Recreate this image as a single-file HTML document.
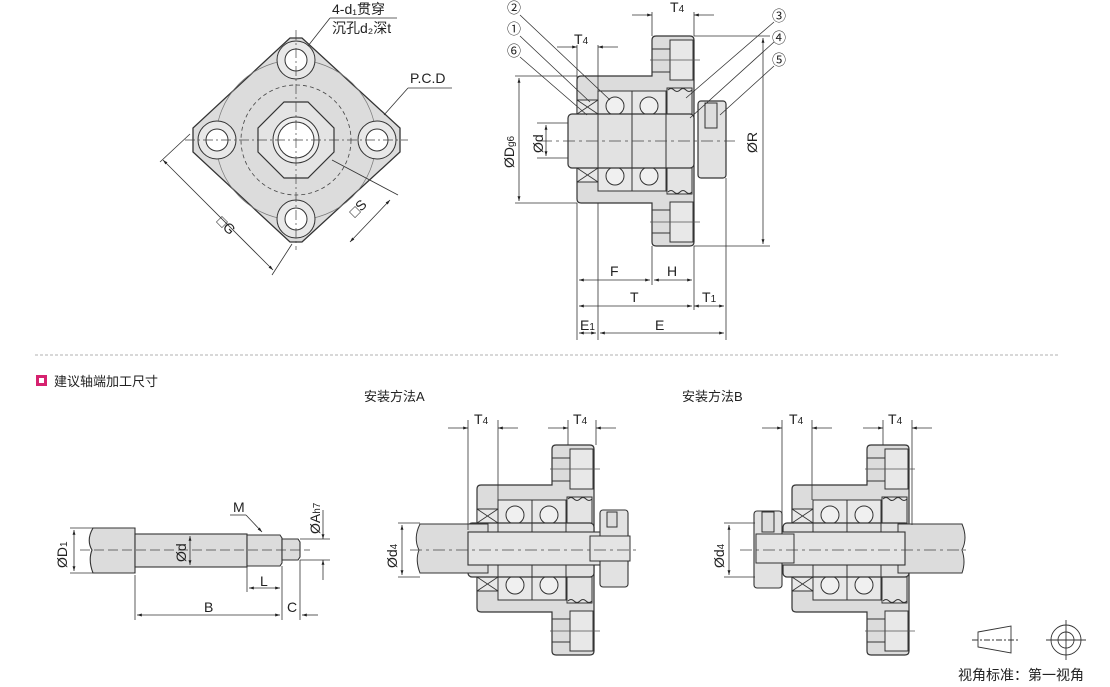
<!DOCTYPE html>
<html><head><meta charset="utf-8"><style>
html,body{margin:0;padding:0;background:#fff;}
svg{display:block;font-family:"Liberation Sans","Noto Sans CJK SC",sans-serif;}
</style></head><body>
<svg width="1110" height="687" viewBox="0 0 1110 687" xmlns="http://www.w3.org/2000/svg">
<defs>
<marker id="a" viewBox="0 0 10 10" refX="10" refY="5" markerWidth="9" markerHeight="6" orient="auto-start-reverse"><path d="M0,2 L10,5 L0,8z" fill="#222"/></marker>
<g id="body">
  <path d="M581,76 H652 V40 Q652,36 656,36 H690 Q694,36 694,40 V242 Q694,246 690,246 H656 Q652,246 652,242 V203 H581 Q577,203 577,199 V80 Q577,76 581,76Z" fill="#dcdcdc" stroke="#333" stroke-width="1.2"/>
  <rect x="670" y="40" width="23" height="40" fill="#e8e8e8" stroke="#333"/>
  <rect x="670" y="202" width="23" height="40" fill="#e8e8e8" stroke="#333"/>
  <line x1="652" y1="49" x2="670" y2="49" stroke="#333"/><line x1="652" y1="72" x2="670" y2="72" stroke="#333"/>
  <line x1="652" y1="210" x2="670" y2="210" stroke="#333"/><line x1="652" y1="233" x2="670" y2="233" stroke="#333"/>
  <line x1="650" y1="60" x2="700" y2="60" stroke="#555" stroke-width=".7"/><line x1="650" y1="222" x2="700" y2="222" stroke="#555" stroke-width=".7"/>
  <rect x="577" y="100" width="21" height="14" fill="#e8e8e8" stroke="#333"/>
  <rect x="577" y="168" width="21" height="14" fill="#e8e8e8" stroke="#333"/>
  <path d="M577,100 L598,114 M598,100 L577,114 M577,168 L598,182 M598,168 L577,182" stroke="#333" stroke-width=".8"/>
  <rect x="598" y="91" width="34" height="23" fill="#e8e8e8" stroke="#333"/>
  <rect x="632" y="91" width="34" height="23" fill="#e8e8e8" stroke="#333"/>
  <rect x="598" y="168" width="34" height="23" fill="#e8e8e8" stroke="#333"/>
  <rect x="632" y="168" width="34" height="23" fill="#e8e8e8" stroke="#333"/>
  <circle cx="615" cy="106" r="9" fill="#f0f0f0" stroke="#333"/><circle cx="649" cy="106" r="9" fill="#f0f0f0" stroke="#333"/>
  <circle cx="615" cy="176" r="9" fill="#f0f0f0" stroke="#333"/><circle cx="649" cy="176" r="9" fill="#f0f0f0" stroke="#333"/>
  <rect x="667" y="88" width="25" height="26" fill="#e4e4e4" stroke="#333"/>
  <rect x="667" y="168" width="25" height="26" fill="#e4e4e4" stroke="#333"/>
  <path d="M668,90 q3,-3 6,0 t6,0 t6,0 t6,0" fill="none" stroke="#333"/>
  <path d="M668,192 q3,-3 6,0 t6,0 t6,0 t6,0" fill="none" stroke="#333"/>
  <rect x="568" y="114" width="126" height="54" rx="4" fill="#e2e2e2" stroke="#333" stroke-width="1.2"/>
  <line x1="598" y1="114" x2="598" y2="168" stroke="#333"/><line x1="632" y1="114" x2="632" y2="168" stroke="#333"/><line x1="666" y1="114" x2="666" y2="168" stroke="#333"/>
</g>
</defs>

<!-- top-left flange view -->
<path d="M290,38 L302,38 L400,128 L400,152 L302,242 L290,242 L193,152 L193,128Z" fill="#dcdcdc" stroke="#333" stroke-width="1.3"/>
<circle cx="296" cy="140" r="80" fill="none" stroke="#777" stroke-width=".7"/>
<circle cx="296" cy="140" r="55" fill="none" stroke="#444" stroke-width=".8" stroke-dasharray="4,3"/>
<path d="M284,102 H308 L334,128 V152 L308,178 H284 L258,152 V128Z" fill="#e4e4e4" stroke="#333" stroke-width="1.2"/>
<circle cx="296" cy="140" r="23" fill="#eee" stroke="#333"/><circle cx="296" cy="140" r="18" fill="#fff" stroke="#333"/>
<g fill="#e8e8e8" stroke="#333">
<circle cx="296" cy="60" r="19"/><circle cx="217" cy="140" r="19"/><circle cx="377" cy="140" r="19"/><circle cx="296" cy="219" r="19"/>
</g>
<g fill="#fff" stroke="#333">
<circle cx="296" cy="60" r="11"/><circle cx="217" cy="140" r="11"/><circle cx="377" cy="140" r="11"/><circle cx="296" cy="219" r="11"/>
</g>
<g stroke="#444" stroke-width=".7" stroke-dasharray="10,3,2,3">
<line x1="185" y1="140" x2="408" y2="140"/><line x1="296" y1="30" x2="296" y2="250"/>
</g>
<g stroke="#333" stroke-width=".8" fill="none">
<line x1="190" y1="134" x2="160" y2="162"/><line x1="292" y1="244" x2="272" y2="275"/>
<line x1="163" y1="160" x2="273" y2="270" marker-start="url(#a)" marker-end="url(#a)"/>
<line x1="332" y1="160" x2="398" y2="195"/>
<line x1="350" y1="242" x2="390" y2="200" marker-start="url(#a)" marker-end="url(#a)"/>
<line x1="308" y1="46" x2="330" y2="18"/><line x1="330" y1="18" x2="397" y2="18"/>
<line x1="384" y1="115" x2="408" y2="88"/><line x1="408" y1="88" x2="452" y2="88"/>
</g>
<text x="332" y="14" font-size="14" fill="#222">4-d₁贯穿</text>
<text x="332" y="33" font-size="14" fill="#222">沉孔d₂深t</text>
<text x="410" y="83" font-size="14" fill="#222">P.C.D</text>
<text x="216" y="222" font-size="14" fill="#222" transform="rotate(45 216 222)">□G</text>
<text x="355" y="218" font-size="14" fill="#222" transform="rotate(-45 355 218)">□S</text>

<!-- top section -->
<use href="#body"/>
<rect x="698" y="101" width="28" height="77" rx="3" fill="#e2e2e2" stroke="#333" stroke-width="1.2"/>
<rect x="705" y="103" width="12" height="25" fill="#ddd" stroke="#333"/>
<line x1="540" y1="141" x2="735" y2="141" stroke="#444" stroke-width=".7" stroke-dasharray="12,4,3,4"/>
<g stroke="#333" stroke-width=".8" fill="none">
<line x1="577" y1="203" x2="577" y2="340"/><line x1="598" y1="203" x2="598" y2="340"/>
<line x1="652" y1="246" x2="652" y2="285"/><line x1="694" y1="246" x2="694" y2="310"/>
<line x1="726" y1="178" x2="726" y2="340"/>
<line x1="577" y1="45" x2="577" y2="100"/><line x1="598" y1="45" x2="598" y2="100"/>
<line x1="652" y1="12" x2="652" y2="36"/><line x1="694" y1="12" x2="694" y2="36"/>
<line x1="557" y1="47" x2="577" y2="47" marker-end="url(#a)"/><line x1="618" y1="47" x2="598" y2="47" marker-end="url(#a)"/>
<line x1="632" y1="15" x2="652" y2="15" marker-end="url(#a)"/><line x1="714" y1="15" x2="694" y2="15" marker-end="url(#a)"/>
<line x1="515" y1="76" x2="577" y2="76"/><line x1="515" y1="203" x2="577" y2="203"/>
<line x1="519" y1="78" x2="519" y2="201" marker-start="url(#a)" marker-end="url(#a)"/>
<line x1="537" y1="123" x2="568" y2="123"/><line x1="537" y1="158" x2="568" y2="158"/>
<line x1="546" y1="125" x2="546" y2="156" marker-start="url(#a)" marker-end="url(#a)"/>
<line x1="694" y1="36" x2="770" y2="36"/><line x1="694" y1="246" x2="770" y2="246"/>
<line x1="763" y1="38" x2="763" y2="244" marker-start="url(#a)" marker-end="url(#a)"/>
<line x1="579" y1="280" x2="650" y2="280" marker-start="url(#a)" marker-end="url(#a)"/>
<line x1="654" y1="280" x2="692" y2="280" marker-start="url(#a)" marker-end="url(#a)"/>
<line x1="579" y1="306" x2="692" y2="306" marker-start="url(#a)" marker-end="url(#a)"/>
<line x1="694" y1="306" x2="724" y2="306" marker-start="url(#a)" marker-end="url(#a)"/>
<line x1="579" y1="333" x2="596" y2="333" marker-start="url(#a)" marker-end="url(#a)"/>
<line x1="600" y1="333" x2="724" y2="333" marker-start="url(#a)" marker-end="url(#a)"/>
<line x1="520" y1="15" x2="610" y2="100"/><line x1="520" y1="36" x2="590" y2="102"/><line x1="520" y1="57" x2="587" y2="115"/>
<line x1="774" y1="22" x2="686" y2="98"/><line x1="774" y1="42" x2="690" y2="118"/><line x1="774" y1="66" x2="720" y2="115"/>
</g>
<g font-size="14" fill="#222">
<text x="507" y="13">②</text><text x="507" y="34">①</text><text x="507" y="56">⑥</text>
<text x="772" y="21">③</text><text x="772" y="43">④</text><text x="772" y="65">⑤</text>
<text x="574" y="44">T<tspan font-size="10">4</tspan></text><text x="670" y="12">T<tspan font-size="10">4</tspan></text>
<text x="610" y="276">F</text><text x="667" y="276">H</text><text x="630" y="302">T</text><text x="702" y="302">T<tspan font-size="10">1</tspan></text>
<text x="580" y="330">E<tspan font-size="10">1</tspan></text><text x="655" y="330">E</text>
<text transform="translate(514 168) rotate(-90)">ØD<tspan font-size="10">g6</tspan></text>
<text transform="translate(543 153) rotate(-90)">Ød</text>
<text transform="translate(757 153) rotate(-90)">ØR</text>
</g>

<line x1="35" y1="355" x2="1058" y2="355" stroke="#999" stroke-width=".8" stroke-dasharray="3,2"/>
<rect x="36" y="375" width="11" height="11" fill="#d6226f"/><rect x="39" y="378" width="5" height="5" fill="#fff"/>
<text x="54" y="386" font-size="13" fill="#222">建议轴端加工尺寸</text>
<text x="364" y="401" font-size="13" fill="#222">安装方法A</text>
<text x="682" y="401" font-size="13" fill="#222">安装方法B</text>

<!-- shaft detail -->
<path d="M93,528 H135 V573 H93 Q88,560 92,550 Q86,540 93,528Z" fill="#dcdcdc" stroke="#333" stroke-width="1.1"/>
<rect x="135" y="534" width="112" height="33" fill="#dcdcdc" stroke="#333" stroke-width="1.1"/>
<path d="M247,535 H280 L282,538 V563 L280,566 H247Z" fill="#dcdcdc" stroke="#333" stroke-width="1.1"/>
<path d="M282,539 H298 L300,542 V557 L298,560 H282Z" fill="#dcdcdc" stroke="#333" stroke-width="1.1"/>
<line x1="80" y1="550" x2="310" y2="550" stroke="#444" stroke-width=".7" stroke-dasharray="10,4"/>
<g stroke="#333" stroke-width=".8" fill="none">
<line x1="70" y1="528" x2="93" y2="528"/><line x1="70" y1="573" x2="93" y2="573"/>
<line x1="74" y1="530" x2="74" y2="571" marker-start="url(#a)" marker-end="url(#a)"/>
<line x1="190" y1="536" x2="190" y2="565" marker-start="url(#a)" marker-end="url(#a)"/>
<line x1="135" y1="575" x2="135" y2="620"/><line x1="282" y1="566" x2="282" y2="620"/><line x1="300" y1="560" x2="300" y2="620"/>
<line x1="247" y1="567" x2="247" y2="592"/>
<line x1="249" y1="588" x2="280" y2="588" marker-start="url(#a)" marker-end="url(#a)"/>
<line x1="137" y1="615" x2="280" y2="615" marker-start="url(#a)" marker-end="url(#a)"/>
<line x1="302" y1="615" x2="318" y2="615" marker-end="url(#a)" transform="rotate(180 310 615)"/>
<line x1="230" y1="515" x2="246" y2="515"/><line x1="246" y1="515" x2="262" y2="532" marker-end="url(#a)"/>
<line x1="300" y1="539" x2="330" y2="539"/><line x1="300" y1="560" x2="330" y2="560"/>
<line x1="323" y1="510" x2="323" y2="539" marker-end="url(#a)"/><line x1="323" y1="580" x2="323" y2="560" marker-end="url(#a)"/>
</g>
<g font-size="14" fill="#222">
<text x="233" y="512">M</text><text x="260" y="586">L</text><text x="204" y="612">B</text><text x="287" y="612">C</text>
<text transform="translate(67 568) rotate(-90)">ØD<tspan font-size="10">1</tspan></text>
<text transform="translate(186 562) rotate(-90)">Ød</text>
<text transform="translate(320 534) rotate(-90)">ØA<tspan font-size="10">h7</tspan></text>
</g>

<!-- install A -->
<g transform="translate(-100 409)"><use href="#body"/></g>
<path d="M420,524 H488 V573 H420 Q415,560 419,550 Q413,538 420,524Z" fill="#dcdcdc" stroke="#333"/>
<rect x="468" y="532" width="160" height="33" fill="#e4e4e4" stroke="#333" stroke-width="1.1"/>
<rect x="600" y="510" width="28" height="77" rx="3" fill="#e2e2e2" stroke="#333" stroke-width="1.1"/>
<rect x="590" y="536" width="40" height="25" fill="#e4e4e4" stroke="#333"/>
<rect x="607" y="512" width="10" height="15" fill="#ddd" stroke="#333"/>
<line x1="410" y1="550" x2="640" y2="550" stroke="#444" stroke-width=".7" stroke-dasharray="12,4,3,4"/>
<g stroke="#333" stroke-width=".8" fill="none">
<line x1="468" y1="420" x2="468" y2="530"/><line x1="498" y1="420" x2="498" y2="500"/>
<line x1="568" y1="420" x2="568" y2="445"/><line x1="596" y1="420" x2="596" y2="445"/>
<line x1="448" y1="428" x2="468" y2="428" marker-end="url(#a)"/><line x1="518" y1="428" x2="498" y2="428" marker-end="url(#a)"/>
<line x1="548" y1="428" x2="568" y2="428" marker-end="url(#a)"/><line x1="616" y1="428" x2="596" y2="428" marker-end="url(#a)"/>
<line x1="398" y1="523" x2="420" y2="523"/><line x1="398" y1="577" x2="420" y2="577"/>
<line x1="402" y1="525" x2="402" y2="575" marker-start="url(#a)" marker-end="url(#a)"/>
</g>
<g font-size="14" fill="#222"><text x="474" y="424">T<tspan font-size="10">4</tspan></text><text x="573" y="424">T<tspan font-size="10">4</tspan></text>
<text transform="translate(397 568) rotate(-90)">Ød<tspan font-size="10">4</tspan></text></g>

<!-- install B -->
<g transform="translate(215 409)"><use href="#body"/></g>
<path d="M898,524 H962 Q968,538 962,550 Q966,562 962,573 H898Z" fill="#dcdcdc" stroke="#333"/>
<rect x="755" y="532" width="150" height="33" fill="#e4e4e4" stroke="#333" stroke-width="1.1"/>
<rect x="754" y="511" width="28" height="77" rx="3" fill="#e2e2e2" stroke="#333" stroke-width="1.1"/>
<rect x="756" y="534" width="38" height="29" fill="#e4e4e4" stroke="#333"/>
<rect x="762" y="512" width="12" height="20" fill="#ddd" stroke="#333"/>
<line x1="740" y1="550" x2="970" y2="550" stroke="#444" stroke-width=".7" stroke-dasharray="12,4,3,4"/>
<g stroke="#333" stroke-width=".8" fill="none">
<line x1="782" y1="420" x2="782" y2="515"/><line x1="812" y1="420" x2="812" y2="500"/>
<line x1="883" y1="420" x2="883" y2="445"/><line x1="912" y1="420" x2="912" y2="525"/>
<line x1="762" y1="428" x2="782" y2="428" marker-end="url(#a)"/><line x1="832" y1="428" x2="812" y2="428" marker-end="url(#a)"/>
<line x1="863" y1="428" x2="883" y2="428" marker-end="url(#a)"/><line x1="932" y1="428" x2="912" y2="428" marker-end="url(#a)"/>
<line x1="724" y1="523" x2="755" y2="523"/><line x1="724" y1="577" x2="755" y2="577"/>
<line x1="729" y1="525" x2="729" y2="575" marker-start="url(#a)" marker-end="url(#a)"/>
</g>
<g font-size="14" fill="#222"><text x="789" y="424">T<tspan font-size="10">4</tspan></text><text x="888" y="424">T<tspan font-size="10">4</tspan></text>
<text transform="translate(724 568) rotate(-90)">Ød<tspan font-size="10">4</tspan></text></g>

<!-- projection symbol -->
<g stroke="#333" stroke-width=".9" fill="none">
<path d="M978,632 L1011,626 V653 L978,647Z"/>
<line x1="972" y1="640" x2="1018" y2="640" stroke-dasharray="6,2,2,2"/>
<circle cx="1066" cy="640" r="15"/><circle cx="1066" cy="640" r="8"/>
<line x1="1046" y1="640" x2="1086" y2="640"/><line x1="1066" y1="620" x2="1066" y2="660"/>
</g>
<text x="958" y="680" font-size="14" fill="#222">视角标准：第一视角</text>
</svg>
</body></html>
